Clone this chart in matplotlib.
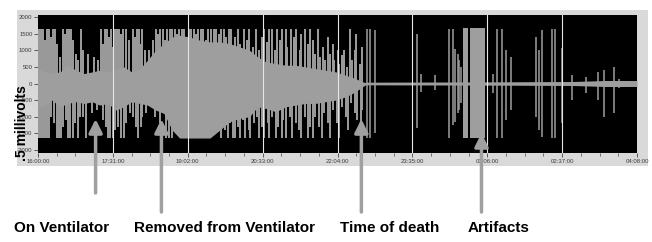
import matplotlib
matplotlib.use("Agg")
import matplotlib.pyplot as plt
from matplotlib.patches import Rectangle
from matplotlib.ticker import FixedLocator, MultipleLocator

# ---------------- data (time in minutes since 16:00:00, amplitude in µV) ----------------
tick_minutes = [0, 91, 182, 273, 364, 455, 546, 637, 728]
tick_labels = ["16:00:00", "17:31:00", "19:02:00", "20:33:00", "22:04:00",
               "23:35:00", "01:06:00", "02:37:00", "04:08:00"]
ytick_values = [2000, 1500, 1000, 500, 0, -500, -1000, -1500, -2000]

# solid envelope of the living EEG
core_t = [0, 8, 17, 27, 36, 46, 56, 66, 75, 85, 95, 104, 114, 124, 133, 143, 153, 163, 172, 184,
          197, 209, 221, 233, 245, 257, 267, 277, 289, 301, 313, 325, 337, 349, 362, 374, 386, 393, 398]
core_hi = [450, 350, 300, 350, 550, 400, 300, 350, 400, 350, 450, 500, 350, 450, 700, 1000, 1200, 1400, 1450, 1400,
           1300, 1250, 1250, 1200, 1100, 1000, 800, 650, 600, 550, 550, 500, 450, 400, 350, 250, 150, 60, 30]
core_lo = [-700, -650, -500, -700, -600, -550, -600, -550, -650, -600, -800, -700, -550, -600, -650, -800, -900, -1400, -1640, -1640,
           -1640, -1640, -1400, -1150, -1050, -1000, -700, -750, -850, -700, -650, -600, -600, -550, -500, -400, -250, -120, -40]

# positive bursts
up_t = [1, 4, 6, 8, 11, 13, 16, 18, 21, 23, 27, 30, 33, 35, 38, 40, 42, 46, 49, 52, 55, 61, 68, 73, 76, 79, 81,
        84, 86, 89, 91, 93, 96, 98, 101, 103, 107, 110, 115, 118, 120, 123, 125, 127, 130, 135, 140,
        143, 146, 148, 152, 154, 157, 160, 163, 166, 169, 171, 175, 177, 180, 183, 186, 189, 192, 195, 198, 201,
        204, 207, 210, 214, 216, 220, 222, 226, 228, 232,
        235, 239, 243, 246, 250, 254, 257, 261, 265, 268, 272,
        275, 278, 281, 284, 288, 291, 294, 297, 301, 303, 307, 311, 314, 318, 320, 324, 328, 330,
        334, 337, 340, 343, 346, 349, 352, 355, 358, 360, 364, 366, 370, 372, 376, 379, 382, 385, 387, 391, 394]
up_v = [1640, 1640, 1640, 1300, 1640, 1640, 1400, 1640, 1640, 1200, 800, 1640, 1500, 1640, 1640, 1640, 1300, 900,
        700, 1640, 1000, 900, 800, 700, 1640, 1200, 1640, 1640, 1400, 1640, 1100, 1640, 1640, 1640, 1500, 1640,
        1640, 1300, 1640, 1400, 1640, 1640, 1200, 1640, 1000, 1000, 1300,
        1640, 1500, 1640, 1640, 1300, 1640, 1640, 1640, 1640, 1500, 1640, 1640, 1640, 1400, 1640, 1640, 1640, 1500,
        1640, 1640, 1640, 1300, 1640, 1640, 1640, 1640, 1500, 1640, 1640, 1400, 1640,
        1640, 1400, 1640, 1200, 1640, 1300, 1640, 1100, 1640, 1000, 1400,
        1640, 1250, 1640, 1640, 1000, 1640, 1300, 1640, 1640, 1100, 1640, 1400, 1640, 1000, 1500, 1640, 1200, 1640,
        1300, 900, 1640, 800, 1100, 700, 1400, 900, 1200, 700, 1000, 600, 850, 1000, 500, 1640, 700, 1000, 1500,
        600, 1100]

# negative bursts
dn_t = [1, 4, 6, 8, 11, 13, 16, 19, 23, 25, 28, 30, 34, 36, 39, 42, 45, 49, 51, 55, 58, 66, 72, 79, 83, 85,
        87, 91, 93, 97, 101, 104, 107, 112, 115, 119, 121, 125, 127, 131, 142, 148, 155, 159, 163,
        223, 227, 231, 233, 237, 240, 243, 246, 249, 252, 256, 258, 262, 266, 269, 272,
        275, 279, 281, 285, 289, 292, 296, 298, 302, 306, 309, 313, 317, 320, 324, 328, 330,
        334, 337, 341, 345, 348, 352, 355, 359, 363, 366, 370, 374, 377, 381, 385, 388, 392, 394]
dn_v = [-1640, -1640, -1640, -1640, -1640, -1640, -1000, -1200, -1640, -1640, -1640, -1300, -1100, -1640, -1640,
        -1640, -1200, -1640, -1000, -1000, -1640, -900, -800, -1100, -1300, -1640, -1640, -1640, -1400, -1300,
        -1640, -1640, -1200, -900, -1000, -1300, -1640, -1300, -1000, -900, -1000, -1200, -1640, -1640, -1640,
        -1640, -1400, -1640, -1200, -1640, -1640, -1300, -1640, -1100, -1640, -1400, -1640, -1200, -1000, -1640, -1300,
        -1640, -1200, -1640, -1000, -1640, -1300, -1640, -1100, -1640, -1000, -1640, -1200, -1400, -1640, -1000,
        -1640, -1300,
        -1640, -1000, -1300, -1640, -900, -1200, -1640, -800, -1200, -1640, -700, -1000, -1400, -600, -900, -1100,
        -1640, -800]

# isolated deflections after death
art_t = [400, 404, 409, 461, 465, 482, 500, 504, 507, 510, 512, 514, 553, 558, 564, 569, 575, 605, 609, 612,
         625, 628, 637, 649, 666, 681, 688, 700, 706]
art_hi = [1640, 1640, 1600, 1500, 300, 250, 1640, 1640, 1050, 900, 700, 500, 300, 1640, 1640, 1000, 800,
          1400, 1000, 1600, 1640, 1640, 1070, 260, 200, 350, 400, 500, 150]
art_lo = [-1640, -1640, -1500, -1350, -250, -200, -1640, -1250, -1150, -900, -800, -600, -300, -1640, -1640,
          -1100, -800, -1000, -1400, -1600, -1640, -1640, -1190, -500, -290, -500, -1000, -900, -150]

# saturated artifact blocks
block_start = [517, 525]
block_end = [523, 543]
block_hi = [1660, 1670]
block_lo = [-1640, -1640]

# flat-line noise band after death
base_t = [398, 500, 560, 650, 690, 728]
base_amp = [40, 45, 50, 60, 90, 90]

# annotations
ann_labels = ["On Ventilator", "Removed from Ventilator", "Time of death", "Artifacts"]
ann_time = [70, 150, 393, 539]
ann_tip = [-1070, -1070, -1070, -1490]

# ---------------- drawing ----------------
W, H = 652, 242
fig = plt.figure(figsize=(W / 100, H / 100), dpi=100)
fig.patch.set_facecolor("white")
fig.patches.append(Rectangle((17 / W, 76 / H), 631 / W, 156 / H, transform=fig.transFigure,
                             facecolor="#d9d9d9", edgecolor="none", zorder=-10))

ax = fig.add_axes([38 / W, 89 / H, 599 / W, 138 / H])
ax.set_zorder(2)
ax.set_facecolor("black")
for s in ax.spines.values():
    s.set_visible(False)

sig = "#9e9e9e"
ax.fill_between(core_t, core_lo, core_hi, color=sig, lw=0, zorder=2)
neg_amp = [-a for a in base_amp]
ax.fill_between(base_t, neg_amp, base_amp, color=sig, lw=0, zorder=2)
ax.vlines(up_t, 0, up_v, color=sig, lw=1.4, zorder=2)
ax.vlines(dn_t, dn_v, 0, color=sig, lw=1.4, zorder=2)
ax.vlines(art_t, art_lo, art_hi, color=sig, lw=1.1, zorder=2)
for s, e, hi, lo in zip(block_start, block_end, block_hi, block_lo):
    ax.fill_between([s, e], [lo, lo], [hi, hi], color=sig, lw=0, zorder=2)

for t in tick_minutes[1:-1]:
    ax.axvline(t, color="#e6e6e6", lw=0.8, zorder=3)

ax.set_xlim(tick_minutes[0], tick_minutes[-1])
ax.set_ylim(-2090, 2060)
ax.xaxis.set_major_locator(FixedLocator(tick_minutes))
ax.set_xticklabels(tick_labels)
ax.xaxis.set_minor_locator(MultipleLocator(91 / 4))
ax.set_yticks(ytick_values)
ax.set_yticklabels([str(v) for v in ytick_values])
ax.tick_params(axis="both", which="major", length=3, width=0.6, color="#444444",
               labelsize=4.3, labelcolor="#3a3a3a", pad=1)
ax.tick_params(axis="x", which="minor", length=2, width=0.5, color="#444444")
for lab in ax.get_xticklabels() + ax.get_yticklabels():
    lab.set_fontfamily("Liberation Sans")

fig.text(22 / W, 1 - 123 / H, ".5 millivolts", rotation=90, ha="center", va="center",
         fontsize=10, fontweight="bold", family="Liberation Sans", color="black", zorder=5)

shaft_bottom = [49, 30, 30, 30]
label_x = [62, 225, 390, 499]
for lab, t, tip, sb, lx in zip(ann_labels, ann_time, ann_tip, shaft_bottom, label_x):
    xd = ax.transData.transform((t, 0))[0]
    ax.annotate("", xy=(t, tip), xycoords="data", xytext=(xd, sb), textcoords="figure pixels",
                arrowprops=dict(arrowstyle="-|>,head_length=0.8,head_width=0.4", lw=2.5,
                                color="#a0a0a0", shrinkA=0, shrinkB=0),
                annotation_clip=False, zorder=5)
    fig.text(lx / W, 14 / H, lab, ha="center", va="center", fontsize=11,
             fontweight="bold", family="Liberation Sans", color="black")

fig.savefig("out.png", dpi=100)
